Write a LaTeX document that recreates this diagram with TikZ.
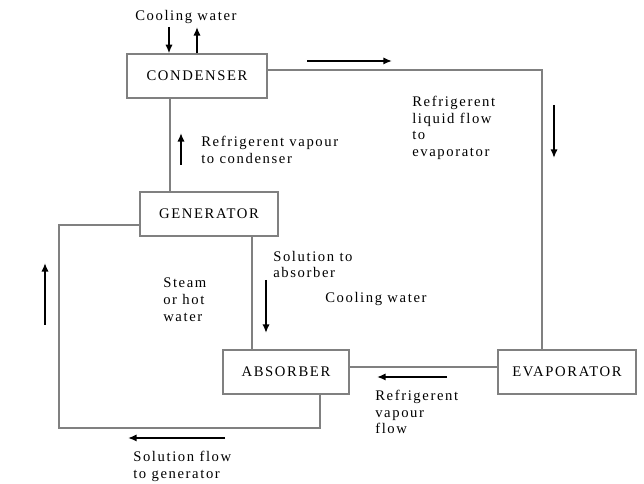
\documentclass[tikz,border=0pt]{standalone}
\usepackage{fontspec}
\setmainfont[LetterSpace=11]{Liberation Serif}
\usetikzlibrary{arrows.meta}
\begin{document}
\begin{tikzpicture}[x=0.75pt,y=-0.75pt,
  box/.style={draw=gray, line width=0.9pt, minimum height=33pt, inner sep=0pt},
  pipe/.style={draw=gray, line width=1pt},
  flow/.style={line width=1.5pt, -{Latex[length=6.5pt,width=5.5pt]}},
  lbl/.style={align=left, anchor=north west, inner sep=0pt},
  font=\fontsize{11}{12.4}\selectfont]
\useasboundingbox (0,0) rectangle (644,484);

\node[box, minimum width=105pt] (cond) at (197,76) {CONDENSER};
\node[box, minimum width=103.5pt] (gen) at (209,214) {GENERATOR};
\node[box, minimum width=94.5pt] (absb) at (286,372) {ABSORBER};
\node[box, minimum width=103.5pt] (evap) at (567,372) {EVAPORATOR};

% pipe corners
\coordinate (ce) at (542,70);
\coordinate (gc) at (170,0);
\coordinate (ga) at (252,0);
\coordinate (ae) at (0,367);
\coordinate (gl) at (59,225);
\coordinate (lb) at (59,428);
\coordinate (ab) at (320,428);

\draw[pipe] (cond.east |- ce) -- (ce) -- (ce |- evap.north);
\draw[pipe] (cond.south -| gc) -- (gen.north -| gc);
\draw[pipe] (gen.south -| ga) -- (absb.north -| ga);
\draw[pipe] (absb.east |- ae) -- (evap.west |- ae);
\draw[pipe] (gen.west |- gl) -- (gl) -- (lb) -- (ab) -- (ab |- absb.south);

% cooling water in and out
\coordinate (cwin) at (169,27);
\coordinate (cwout) at (197,27);
\draw[flow] (cwin) -- (cwin |- cond.north);
\draw[flow] (cwout |- cond.north) -- (cwout);

% flow arrows
\draw[flow] (307,61) -- (392,61);
\draw[flow] (554,105) -- (554,158);
\draw[flow] (181,165) -- (181,133);
\draw[flow] (266,280) -- (266,333);
\draw[flow] (45,325) -- (45,263);
\draw[flow] (447,377) -- (377,377);
\draw[flow] (225,438) -- (128,438);

\node[lbl] (lcw) at (135,10) {Cooling water};
\node[lbl] (lrv) at (201,136) {Refrigerent vapour\\to condenser};
\node[lbl] (lrl) at (412,96) {Refrigerent\\liquid flow\\to\\evaporator};
\node[lbl] (lsa) at (273,251) {Solution to\\absorber};
\node[lbl] (lst) at (163,278) {Steam\\or hot\\water};
\node[lbl] (lcw2) at (325,292) {Cooling water};
\node[lbl] (lvf) at (375,390) {Refrigerent\\vapour\\flow};
\node[lbl] (lsg) at (133,451) {Solution flow\\to generator};
\end{tikzpicture}
\end{document}
